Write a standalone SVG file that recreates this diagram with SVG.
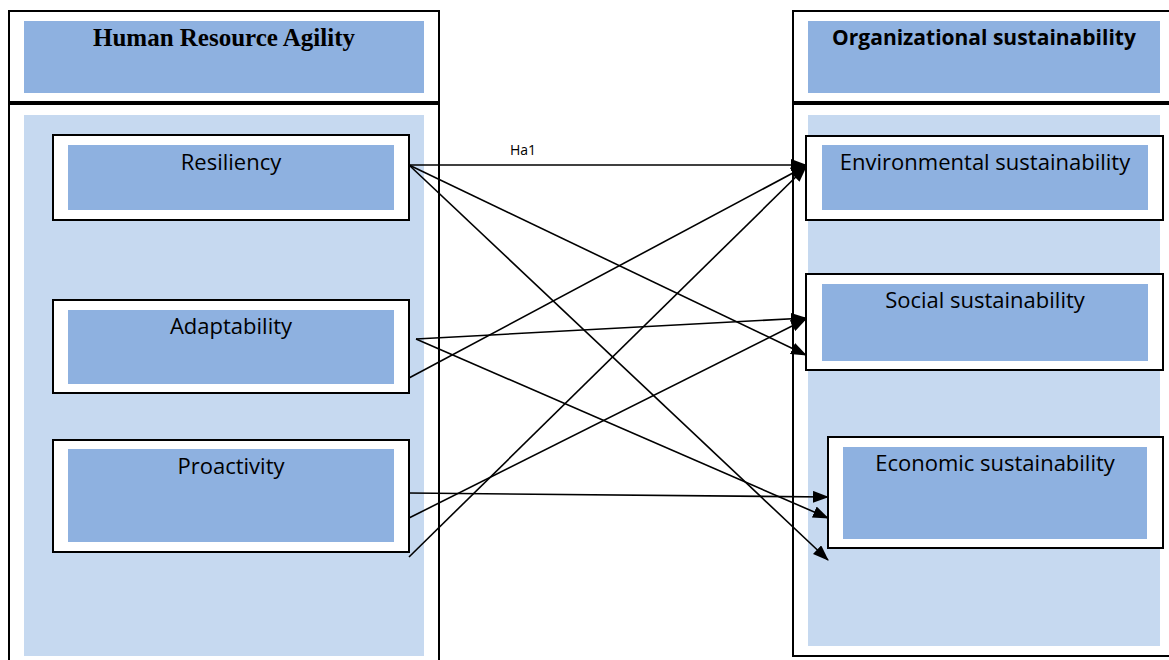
<svg xmlns="http://www.w3.org/2000/svg" width="1169" height="660" viewBox="0 0 1169 660">
<defs>
<style>
.frame{fill:#fff;stroke:#000;stroke-width:2}
.dark{fill:#8EB1E0}
.light{fill:#C6D9F0}
.lbl{font-family:"Open Sans","Noto Sans",sans-serif;font-size:22px;fill:#000;text-anchor:middle}
.ttl{font-family:"Liberation Serif",serif;font-weight:bold;font-size:25px;fill:#000;text-anchor:middle}
.ttl2{font-family:"Open Sans","Noto Sans",sans-serif;font-weight:bold;font-size:21px;fill:#000;text-anchor:middle}
.small{font-family:"Open Sans","Noto Sans",sans-serif;font-size:14px;fill:#000}
.con line{stroke:#000;stroke-width:1.6;marker-end:url(#ah)}
</style>
<marker id="ah" markerWidth="16" markerHeight="12" refX="15" refY="6" orient="auto" markerUnits="userSpaceOnUse">
<path d="M0,0 L16,6 L0,12 z" fill="#000"/>
</marker>
</defs>
<rect width="1169" height="660" fill="#fff"/>
<g id="hra-title">
<rect class="frame" x="9" y="11" width="430" height="91"/>
<rect class="dark" x="24" y="21" width="400" height="72"/>
<text class="ttl" x="224" y="46">Human Resource Agility</text>
</g>
<g id="hra-panel">
<rect class="frame" x="9" y="104" width="430" height="560"/>
<rect class="light" x="24" y="115" width="400" height="541"/>
</g>
<g id="os-title">
<rect class="frame" x="793" y="11" width="380" height="91"/>
<rect class="dark" x="808" y="21" width="352" height="72"/>
<text class="ttl2" x="984" y="45">Organizational sustainability</text>
</g>
<g id="os-panel">
<rect class="frame" x="793" y="104" width="380" height="552"/>
<rect class="light" x="808" y="115" width="352" height="531"/>
</g>
<g id="resiliency">
<rect class="frame" x="53" y="135" width="356" height="85"/>
<rect class="dark" x="68" y="145" width="326" height="65"/>
<text class="lbl" x="231" y="170">Resiliency</text>
</g>
<g id="adaptability">
<rect class="frame" x="53" y="300" width="356" height="93"/>
<rect class="dark" x="68" y="310" width="326" height="74"/>
<text class="lbl" x="231" y="334">Adaptability</text>
</g>
<g id="proactivity">
<rect class="frame" x="53" y="440" width="356" height="112"/>
<rect class="dark" x="68" y="449" width="326" height="93"/>
<text class="lbl" x="231" y="474">Proactivity</text>
</g>
<g id="environmental">
<rect class="frame" x="806" y="136" width="357" height="84"/>
<rect class="dark" x="822" y="145" width="326" height="65"/>
<text class="lbl" x="985" y="170">Environmental sustainability</text>
</g>
<g id="social">
<rect class="frame" x="806" y="274" width="357" height="96"/>
<rect class="dark" x="822" y="284" width="326" height="77"/>
<text class="lbl" x="985" y="308">Social sustainability</text>
</g>
<g id="economic">
<rect class="frame" x="828" y="437" width="335" height="111"/>
<rect class="dark" x="843" y="447" width="304" height="92"/>
<text class="lbl" x="995" y="471">Economic sustainability</text>
</g>
<g id="connectors" class="con">
<line x1="409" y1="165" x2="806" y2="165"/>
<line x1="409" y1="165" x2="806" y2="355"/>
<line x1="409" y1="165" x2="828" y2="560"/>
<line x1="416" y1="339" x2="806" y2="318"/>
<line x1="416" y1="339" x2="828" y2="518"/>
<line x1="409" y1="378" x2="806" y2="166"/>
<line x1="409" y1="493" x2="828" y2="497"/>
<line x1="409" y1="518" x2="806" y2="319"/>
<line x1="409" y1="557" x2="806" y2="167"/>
</g>
<text class="small" x="510" y="155">Ha1</text>
</svg>
